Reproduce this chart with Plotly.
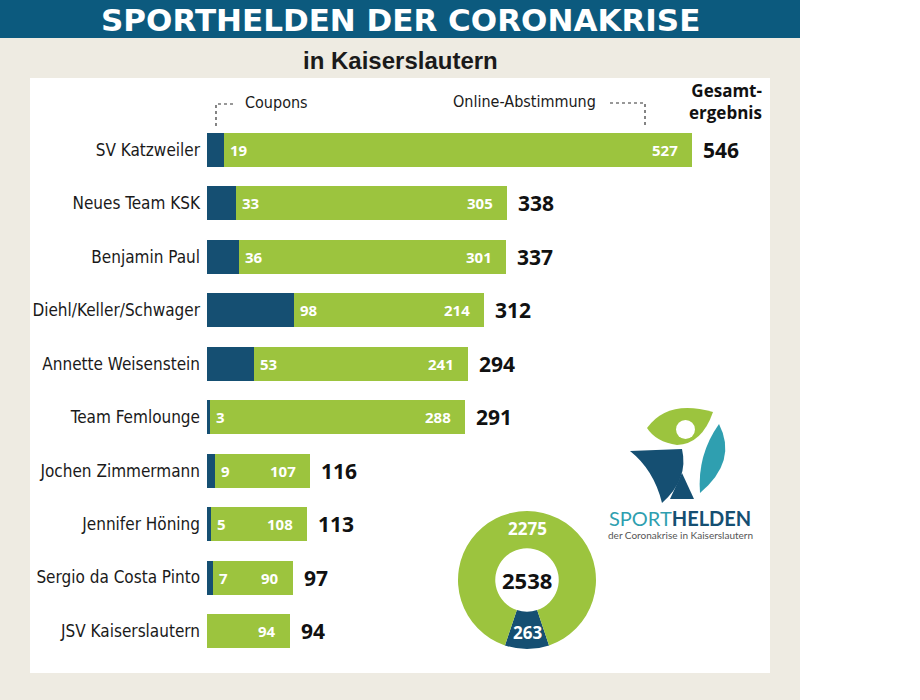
import plotly.graph_objects as go

# ---------------- data ----------------
teams = ["SV Katzweiler", "Neues Team KSK", "Benjamin Paul", "Diehl/Keller/Schwager",
         "Annette Weisenstein", "Team Femlounge", "Jochen Zimmermann", "Jennifer Höning",
         "Sergio da Costa Pinto", "JSV Kaiserslautern"]
coupons = [19, 33, 36, 98, 53, 3, 9, 5, 7, 0]
online = [527, 305, 301, 214, 241, 288, 107, 108, 90, 94]
totals = [c + o for c, o in zip(coupons, online)]
coupons_sum = sum(coupons)
online_sum = sum(online)
grand_total = sum(totals)

# ---------------- style ----------------
W, H = 920, 700
BLUE = "#154f72"
GREEN = "#9cc43e"
TEAL = "#2f9fb0"
HEAD = "#0c5a7e"
BEIGE = "#eeebe2"
NARROW = "Liberation Sans Narrow, Arial Narrow, DejaVu Sans Condensed, sans-serif"
BOLD = "Open Sans, Liberation Sans, Arial, sans-serif"


def px(x):
    return x / W


def py(y):
    return 1 - y / H


fig = go.Figure()

fig.add_trace(go.Bar(y=teams, x=coupons, orientation="h", marker_color=BLUE,
                     marker_line_width=0, name="Coupons", hoverinfo="x+y"))
fig.add_trace(go.Bar(y=teams, x=online, orientation="h", marker_color=GREEN,
                     marker_line_width=0, name="Online-Abstimmung", hoverinfo="x+y"))

# donut
cx, cy, r = 527, 580, 69
fig.add_trace(go.Pie(values=[coupons_sum, online_sum], labels=["Coupons", "Online-Abstimmung"],
                     marker=dict(colors=[BLUE, GREEN], line=dict(width=0)),
                     hole=0.46, sort=False, direction="clockwise",
                     rotation=180 - 360 * coupons_sum / grand_total / 2,
                     textinfo="none", showlegend=False,
                     domain=dict(x=[px(cx - r), px(cx + r)], y=[py(cy + r), py(cy - r)])))

ann = []
for t, c, o, tot in zip(teams, coupons, online, totals):
    if c > 0:
        ann.append(dict(x=c, y=t, xref="x", yref="y", text=str(c), showarrow=False,
                        xanchor="left", yanchor="middle", xshift=4,
                        font=dict(family=BOLD, size=15, color="white", weight="bold")))
    ann.append(dict(x=tot, y=t, xref="x", yref="y", text=str(o), showarrow=False,
                    xanchor="right", yanchor="middle", xshift=-12,
                    font=dict(family=BOLD, size=15, color="white", weight="bold")))
    ann.append(dict(x=tot, y=t, xref="x", yref="y", text=str(tot), showarrow=False,
                    xanchor="left", yanchor="middle", xshift=9,
                    font=dict(family=BOLD, size=21, color="#111111", weight="bold")))

# titles
ann.append(dict(x=px(400), y=py(20), xref="paper", yref="paper", showarrow=False,
                text="SPORTHELDEN DER CORONAKRISE", xanchor="center", yanchor="middle",
                font=dict(family="DejaVu Sans", size=31, color="white", weight="bold")))
ann.append(dict(x=px(400), y=py(60), xref="paper", yref="paper", showarrow=False,
                text="in Kaiserslautern", xanchor="center", yanchor="middle",
                font=dict(family="Liberation Sans", size=24,
                          color="#1a1a1a", weight="bold")))
ann.append(dict(x=px(243), y=py(103), xref="paper", yref="paper", showarrow=False,
                text="Coupons", xanchor="left", yanchor="middle",
                font=dict(family=NARROW, size=16, color="#1a1a1a")))
ann.append(dict(x=px(598), y=py(102), xref="paper", yref="paper", showarrow=False,
                text="Online-Abstimmung", xanchor="right", yanchor="middle",
                font=dict(family=NARROW, size=16, color="#1a1a1a")))
ann.append(dict(x=px(764), y=py(101), xref="paper", yref="paper", showarrow=False,
                text="Gesamt-<br>ergebnis", xanchor="right", yanchor="middle", align="right",
                font=dict(family=BOLD, size=17, color="#111111", weight="bold")))

# donut labels
ann.append(dict(x=px(cx), y=py(cy - 52), xref="paper", yref="paper", showarrow=False,
                xanchor="center", yanchor="middle",
                text=str(online_sum), font=dict(family=BOLD, size=17, color="white", weight="bold")))
ann.append(dict(x=px(cx), y=py(cy), xref="paper", yref="paper", showarrow=False,
                xanchor="center", yanchor="middle",
                text=str(grand_total), font=dict(family=BOLD, size=22, color="#111111", weight="bold")))
ann.append(dict(x=px(cx), y=py(cy + 52), xref="paper", yref="paper", showarrow=False,
                xanchor="center", yanchor="middle",
                text=str(coupons_sum), font=dict(family=BOLD, size=17, color="white", weight="bold")))

# logo text
ann.append(dict(x=px(680), y=py(518), xref="paper", yref="paper", showarrow=False,
                text="<span style='color:%s'>SPORT</span><b>HELDEN</b>" % TEAL,
                xanchor="center", yanchor="middle",
                font=dict(family="Lato, Open Sans, sans-serif", size=20, color=BLUE)))
ann.append(dict(x=px(680), y=py(535), xref="paper", yref="paper", showarrow=False,
                text="der Coronakrise in Kaiserslautern", xanchor="center", yanchor="middle",
                font=dict(family="Lato, Open Sans, sans-serif", size=10, color="#555555")))


def rect(x0, y0, x1, y1, color):
    return dict(type="rect", xref="paper", yref="paper", x0=px(x0), x1=px(x1),
                y0=py(y1), y1=py(y0), fillcolor=color, line=dict(width=0), layer="below")


def path(cmds, fill=None, line=None):
    s = ""
    for c in cmds:
        if isinstance(c, str):
            s += c + " "
        else:
            s += "%.5f,%.5f " % (px(c[0]), py(c[1]))
    d = dict(type="path", xref="paper", yref="paper", path=s.strip())
    if fill:
        d["fillcolor"] = fill
        d["line"] = dict(width=0)
    if line:
        d["line"] = line
    return d


shapes = [
    rect(0, 0, 800, 700, BEIGE),
    rect(0, 0, 800, 38, HEAD),
    rect(30, 78, 770, 673, "white"),
    path(["M", (216, 126), "L", (216, 104), "L", (236, 104)],
         line=dict(color="#333333", width=1.2, dash="dot")),
    path(["M", (610, 103), "L", (645, 103), "L", (645, 126)],
         line=dict(color="#333333", width=1.2, dash="dot")),
    # logo
    path(["M", (647, 428), "Q", (668, 399), (713, 412), "Q", (702, 444), (677, 445),
          "Q", (656, 442), (647, 428), "Z"], fill=GREEN),
    dict(type="circle", xref="paper", yref="paper", x0=px(676), x1=px(695), y0=py(439),
         y1=py(420), fillcolor="white", line=dict(width=0)),
    path(["M", (630, 451), "L", (682, 449), "Q", (689, 479), (662, 503),
          "Q", (654, 470), (630, 451), "Z"], fill=BLUE),
    path(["M", (682, 473), "L", (694, 499), "L", (670, 499), "Z"], fill=BLUE),
    path(["M", (719, 424), "Q", (738, 461), (700, 493), "Q", (697, 455), (719, 424), "Z"], fill=TEAL),
]

n = len(teams)
fig.update_layout(
    width=W, height=H, margin=dict(l=0, r=0, t=0, b=0),
    paper_bgcolor="white", plot_bgcolor="rgba(0,0,0,0)",
    barmode="stack", bargap=0.364, showlegend=False,
    xaxis=dict(domain=[px(207), px(800)], range=[0, (800 - 207) / 0.888],
               visible=False, fixedrange=True),
    yaxis=dict(domain=[py(657.7), py(123.3)], type="category",
               categoryorder="array", categoryarray=teams,
               range=[n - 0.5, -0.5], showgrid=False, zeroline=False, showline=False,
               ticks="", ticklabelstandoff=6,
               tickfont=dict(family=NARROW, size=17, color="#1a1a1a")),
    annotations=ann, shapes=shapes,
)

fig.write_html("out.html")
